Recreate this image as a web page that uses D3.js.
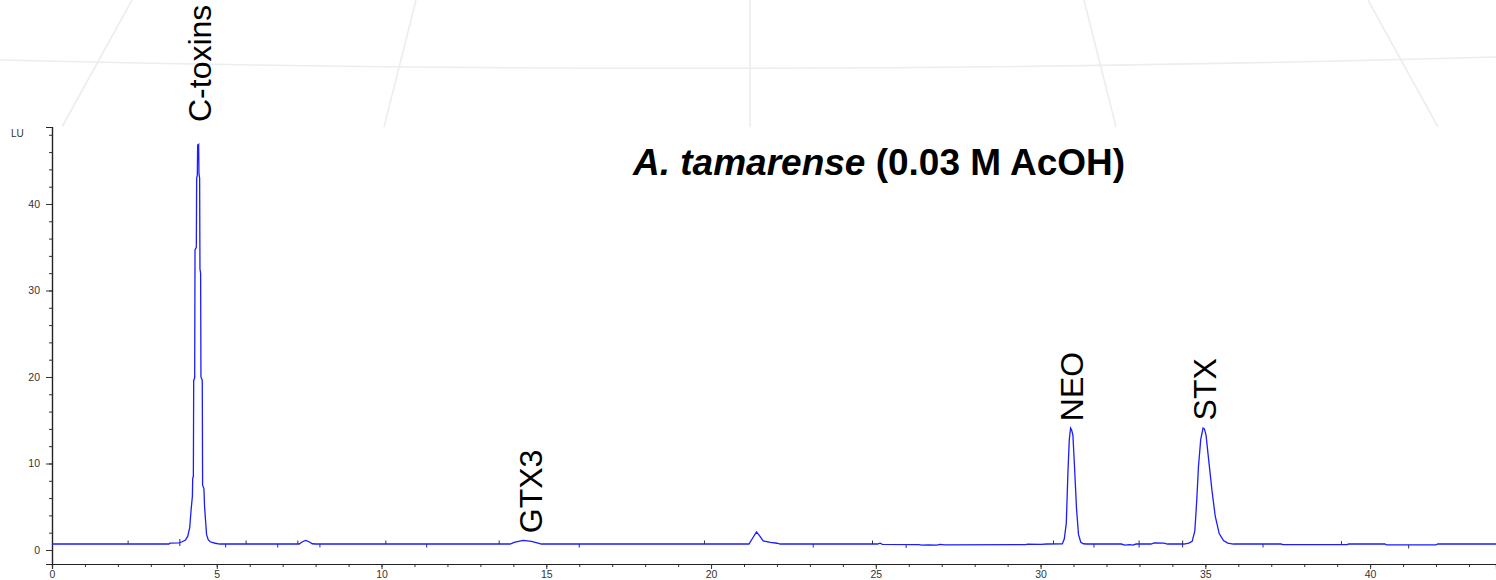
<!DOCTYPE html>
<html>
<head>
<meta charset="utf-8">
<script src="https://cdnjs.cloudflare.com/ajax/libs/d3/7.8.5/d3.min.js"></script>
<style>
  body { margin: 0; background: #fff; }
  svg { display: block; font-family: "Liberation Sans", Arial, sans-serif; }
</style>
</head>
<body>
<svg width="1496" height="580"></svg>
<script>
// chromatogram: retention time (min) / fluorescence (LU)
var retentionTime = [
  0, 3.55, 3.58, 3.85, 3.95, 4.05, 4.12, 4.18, 4.22, 4.26, 4.27, 4.29, 4.30, 4.33, 4.34, 4.38, 4.39, 4.41,
  4.42, 4.45, 4.46, 4.48, 4.49, 4.51, 4.52, 4.56, 4.57, 4.61, 4.63, 4.66, 4.69, 4.74, 4.80, 4.95, 5.1,
  7.5, 7.6, 7.7, 7.8, 7.9, 8.0,
  13.9, 14.05, 14.3, 14.55, 14.75, 14.85,
  21.15, 21.25, 21.38, 21.48, 21.58, 21.8, 22.0, 22.1,
  25.05, 25.13, 25.2, 26.3, 26.4, 26.6, 26.85, 26.95, 27.1, 29.55, 29.6, 30.0, 30.2,
  30.66, 30.72, 30.78, 30.83, 30.87, 30.91, 30.94, 30.98, 31.03, 31.09, 31.15, 31.22, 31.3, 31.4,
  32.45, 32.55, 32.7, 32.8, 32.9, 33.35, 33.45, 33.75, 33.85,
  34.35, 34.5, 34.6, 34.68, 34.74, 34.79, 34.86, 34.93, 34.97, 35.02, 35.09, 35.2, 35.3, 35.42, 35.55, 35.68, 35.85,
  37.3, 37.35, 39.3, 39.35, 40.45, 40.5, 42.0, 42.05, 43.82
];
var signal = [
  0.69, 0.69, 0.8, 0.82, 0.95, 1.15, 1.6, 2.6, 4.6, 6.2, 8.3, 8.5, 19.6, 19.9, 34.7, 35.0, 43.0, 43.3,
  46.8, 46.9, 43.5, 43.0, 32.5, 32.0, 20.0, 19.6, 7.5, 7.1, 5.0, 3.4, 1.8, 1.2, 0.95, 0.78, 0.69,
  0.69, 0.95, 1.1, 0.95, 0.72, 0.69,
  0.69, 0.9, 1.1, 1.0, 0.8, 0.69,
  0.69, 1.3, 2.1, 1.6, 1.05, 0.88, 0.78, 0.69,
  0.69, 0.78, 0.66, 0.62, 0.56, 0.6, 0.56, 0.64, 0.6, 0.62, 0.68, 0.64, 0.69,
  0.7, 1.3, 3.1, 9.0, 12.7, 14.1, 13.9, 13.3, 9.6, 4.8, 1.8, 0.9, 0.72, 0.69,
  0.69, 0.57, 0.62, 0.56, 0.69, 0.69, 0.82, 0.8, 0.69,
  0.69, 0.8, 1.0, 2.2, 5.8, 9.6, 12.8, 14.1, 14.0, 13.3, 10.8, 6.9, 3.9, 1.9, 1.1, 0.8, 0.69,
  0.69, 0.62, 0.62, 0.69, 0.69, 0.58, 0.58, 0.69, 0.69
];

// integration start / end markers (min)
var peakStarts = [2.31, 3.88, 5.89, 7.46, 10.13, 13.57, 19.8, 24.9, 30.39, 32.99, 34.31, 39.13];
var peakEnds = [3.88, 5.27, 6.85, 8.13, 11.37, 16.0, 23.1, 25.92, 31.62, 32.99, 34.31, 36.75, 41.17];

var peakNames = ['C-toxins', 'GTX3', 'NEO', 'STX'];
var labelTimes = [4.45, 14.5, 30.93, 34.95];

var xTicks = [0, 5, 10, 15, 20, 25, 30, 35, 40];
var yTicks = [0, 10, 20, 30, 40];

var width = 1496;
var height = 580;
var margin = { top: 127, right: 0, bottom: 16, left: 52 };

var data = retentionTime.map((t, i) => ({ t: t, v: signal[i] }));

var svg = d3.select('svg');

// faint slide background (globe lines) ------------------------------------
var bg = svg.append('g').attr('fill', 'none').attr('stroke', '#ededed').attr('stroke-width', 1.6);
bg.append('path').attr('d', 'M0,60 Q750,78 1496,57');
[[132, 62], [416, 384], [750, 750], [1084, 1116], [1368, 1438]].forEach(p => {
  bg.append('line').attr('x1', p[0]).attr('y1', 0).attr('x2', p[1]).attr('y2', margin.top);
});
svg.append('rect').attr('x', 0).attr('y', margin.top).attr('width', width).attr('height', height - margin.top).attr('fill', '#fff');

// Setup scales ------------------------------------------------------------
var xScale = d3.scaleLinear().domain([0, 43.82]).range([margin.left, width - margin.right]);
var yScale = d3.scaleLinear().domain([-1.62, 48.9]).range([height - margin.bottom, margin.top]);

// Axes ---------------------------------------------------------------------
var xAxis = d3.axisBottom(xScale).tickValues(xTicks).tickSize(5).tickPadding(2).tickFormat(d3.format('d'));
var xMinor = d3.axisBottom(xScale).tickValues(d3.range(0, 44, 1)).tickSize(3).tickFormat('');
var yAxis = d3.axisLeft(yScale).tickValues(yTicks).tickSize(6).tickPadding(6).tickFormat(d3.format('d'));
var yMinor = d3.axisLeft(yScale).tickValues(d3.range(0, 49, 2)).tickSize(3).tickFormat('');

var gx = svg.append('g').attr('transform', 'translate(' + [0, height - margin.bottom] + ')');
gx.call(xMinor);
gx.append('g').call(xAxis);
var gy = svg.append('g').attr('transform', 'translate(' + [margin.left, 0] + ')');
gy.call(yMinor);
gy.append('g').call(yAxis);

svg.selectAll('.domain').attr('stroke', '#222').attr('stroke-width', 1.2);
svg.selectAll('.tick line').attr('stroke', '#333');
svg.selectAll('.tick text').attr('font-size', 10.5).attr('fill', '#333')
  .attr('font-family', '"Liberation Sans", Arial, sans-serif');

svg.append('text').attr('x', 11).attr('y', 137).attr('font-size', 10).attr('fill', '#333').text('LU');

// integration markers ------------------------------------------------------
function valueAt(t) {
  var i = d3.bisector(d => d.t).left(data, t);
  if (i <= 0) return data[0].v;
  var a = data[i - 1], b = data[i] || a;
  return b.t === a.t ? a.v : a.v + (b.v - a.v) * (t - a.t) / (b.t - a.t);
}
svg.append('g').selectAll('line.s').data(peakStarts).enter().append('line')
  .attr('x1', d => xScale(d)).attr('x2', d => xScale(d))
  .attr('y1', d => yScale(valueAt(d)) - 3.5).attr('y2', d => yScale(valueAt(d)))
  .attr('stroke', '#333').attr('stroke-width', 1);
svg.append('g').selectAll('line.e').data(peakEnds).enter().append('line')
  .attr('x1', d => xScale(d)).attr('x2', d => xScale(d))
  .attr('y1', d => yScale(valueAt(d))).attr('y2', d => yScale(valueAt(d)) + 3.5)
  .attr('stroke', '#333').attr('stroke-width', 1);

// chromatogram trace ---------------------------------------------------------
var line = d3.line().x(d => xScale(d.t)).y(d => yScale(d.v));
svg.append('path').datum(data).attr('d', line)
  .attr('fill', 'none').attr('stroke', '#1c1cff').attr('stroke-width', 1.3);

// peak labels: above the peak, or above the frame when the peak is too tall
svg.append('g').selectAll('text').data(peakNames).enter().append('text')
  .attr('transform', (d, i) => {
    var v = valueAt(labelTimes[i]);
    var y = v > 40 ? margin.top - 5 : yScale(v) - 8;
    return 'translate(' + [xScale(labelTimes[i]) + 12, y] + ') rotate(-90)';
  })
  .attr('font-size', 32).attr('fill', '#000').text(d => d);

// title
var title = svg.append('text').attr('x', 633).attr('y', 175).attr('font-size', 37).attr('font-weight', 'bold');
title.append('tspan').attr('font-style', 'italic').text('A. tamarense');
title.append('tspan').text(' (0.03 M AcOH)');
</script>
</body>
</html>
